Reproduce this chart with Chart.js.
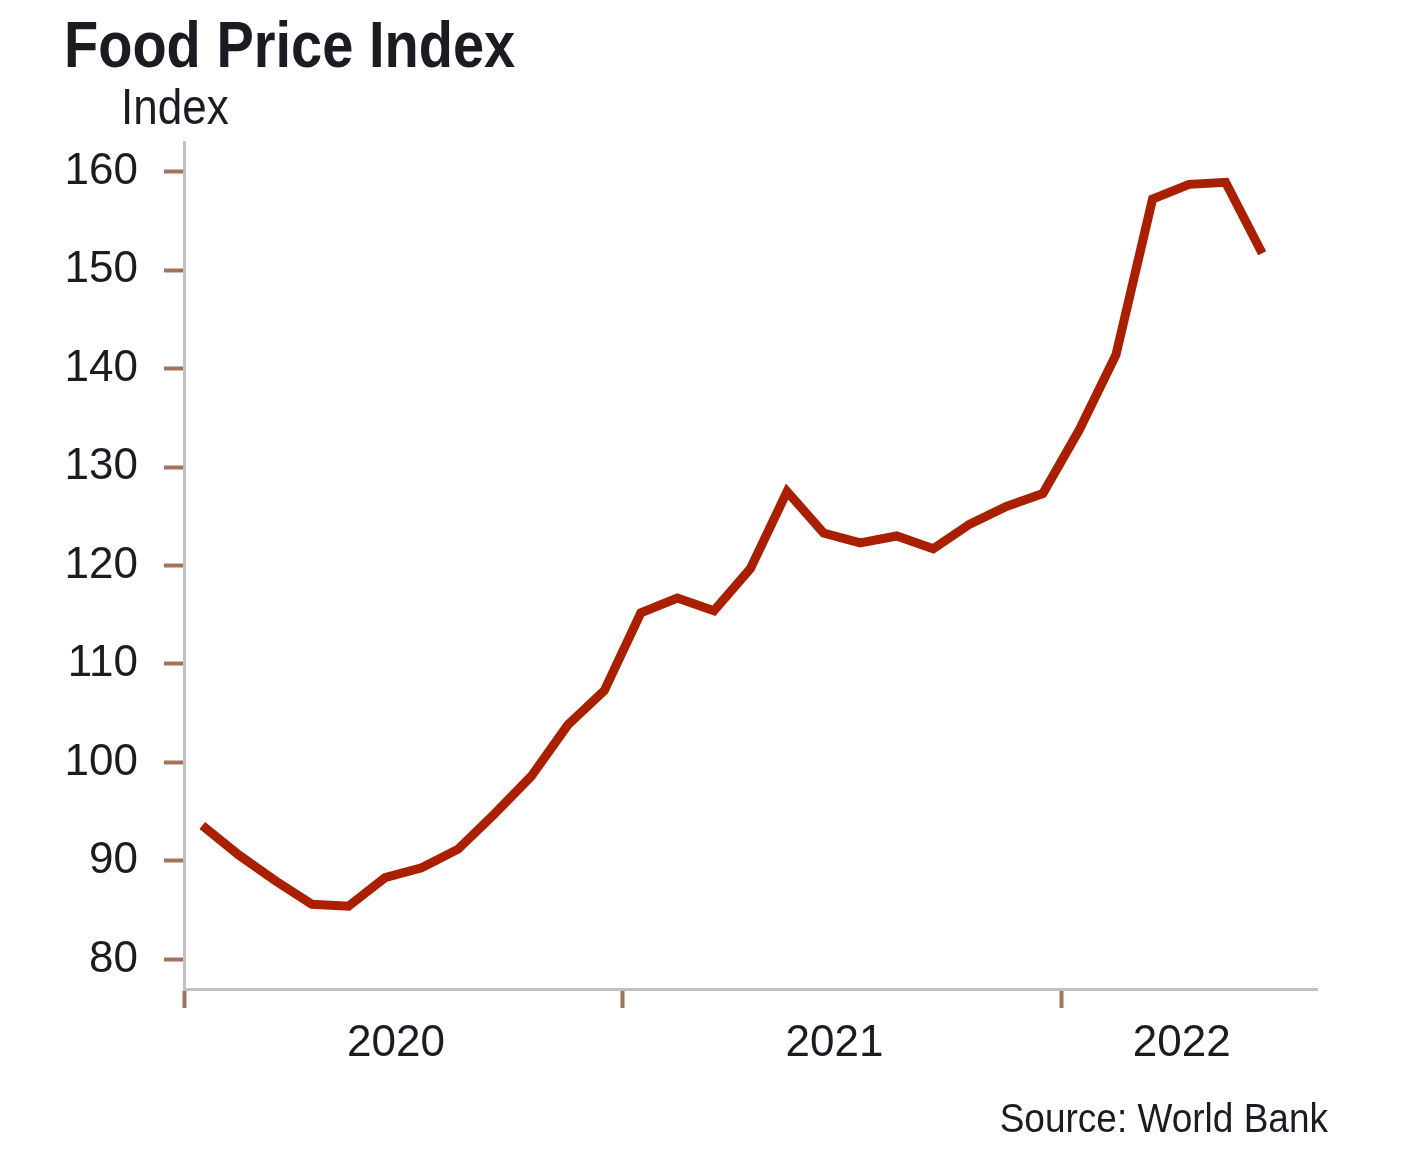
<!DOCTYPE html>
<html>
<head>
<meta charset="utf-8">
<script src="https://cdn.jsdelivr.net/npm/chart.js@4.4.1/dist/chart.umd.min.js"></script>
<style>
  html, body { margin: 0; padding: 0; background: #fff; }
  #wrap { width: 1416px; height: 1162px; }
</style>
</head>
<body>
<div id="wrap"><canvas id="foodChart" width="1416" height="1162"></canvas></div>
<script>
// monthly slots on the x axis (last slot has no data yet)
const months = [
  'Jan 2020', 'Feb 2020', 'Mar 2020', 'Apr 2020', 'May 2020', 'Jun 2020',
  'Jul 2020', 'Aug 2020', 'Sep 2020', 'Oct 2020', 'Nov 2020', 'Dec 2020',
  'Jan 2021', 'Feb 2021', 'Mar 2021', 'Apr 2021', 'May 2021', 'Jun 2021',
  'Jul 2021', 'Aug 2021', 'Sep 2021', 'Oct 2021', 'Nov 2021', 'Dec 2021',
  'Jan 2022', 'Feb 2022', 'Mar 2022', 'Apr 2022', 'May 2022', 'Jun 2022',
  'Jul 2022'
];

// food price index
const foodIndex = [
  93.6, 90.6, 88.0, 85.6, 85.4, 88.3, 89.3, 91.2, 94.8, 98.6, 103.8, 107.3,
  115.2, 116.7, 115.4, 119.7, 127.5, 123.3, 122.3, 123.0, 121.7, 124.2, 126.0, 127.3,
  133.8, 141.4, 157.2, 158.7, 158.9, 151.7
];

const yTicks = [80, 90, 100, 110, 120, 130, 140, 150, 160];
const years = ['2020', '2021', '2022'];

const lineColor = '#a91f00';
const textColor = '#1b1b22';
const tickMarkColor = '#a2735c';
const axisColor = '#c4c0bf';
const fontFamily = '"Liberation Sans", Arial, sans-serif';

// year boundaries and year label centres, in month-index units
const boundaries = [];
const yearCenters = [];
years.forEach(yr => {
  const idx = months.map((m, i) => m.endsWith(yr) ? i : -1).filter(i => i >= 0);
  const start = idx[0] - 0.5;
  const end = idx[idx.length - 1] + 0.5;
  boundaries.push(start);
  yearCenters.push({ value: (start + end) / 2 - 0.2, label: yr });
});

function drawText(ctx, text, x, y, font, align, stretch) {
  ctx.save();
  ctx.font = font;
  ctx.fillStyle = textColor;
  ctx.textAlign = align;
  ctx.textBaseline = 'alphabetic';
  ctx.translate(x, y);
  ctx.scale(1, stretch);
  ctx.fillText(text, 0, 0);
  ctx.restore();
}

const textPlugin = {
  id: 'textPlugin',
  afterDraw(chart) {
    const ctx = chart.ctx;
    drawText(ctx, 'Food Price Index', 64, 67, 'bold 56px ' + fontFamily, 'left', 1.15);
    drawText(ctx, 'Index', 121, 124, '44px ' + fontFamily, 'left', 1.12);
    drawText(ctx, 'Source: World Bank', 1328, 1132, '37px ' + fontFamily, 'right', 1.1);
  }
};

function createFoodChart() {
  const ctx = document.getElementById('foodChart').getContext('2d');
  return new Chart(ctx, {
    type: 'line',
    data: {
      datasets: [{
        label: 'Food Price Index',
        data: foodIndex.map((v, i) => ({ x: i, y: v })),
        borderColor: lineColor,
        borderWidth: 9,
        pointRadius: 0,
        tension: 0,
        fill: false,
        borderJoinStyle: 'miter',
        borderCapStyle: 'butt'
      }]
    },
    options: {
      responsive: false,
      animation: false,
      devicePixelRatio: 1,
      layout: { padding: { top: 142, right: 99, bottom: 73, left: 0 } },
      plugins: {
        legend: { display: false },
        tooltip: { enabled: false },
        title: { display: false }
      },
      scales: {
        x: {
          type: 'linear',
          min: -0.5,
          max: months.length - 0.5,
          afterFit: scale => { scale.height = 100; },
          afterBuildTicks: scale => {
            scale.ticks = boundaries.map(v => ({ value: v }))
              .concat(yearCenters.map(c => ({ value: c.value })));
          },
          border: { display: true, color: axisColor, width: 3 },
          grid: {
            drawOnChartArea: false,
            drawTicks: true,
            tickLength: 19,
            tickWidth: 4,
            tickColor: c => boundaries.includes(c.tick.value) ? tickMarkColor : 'rgba(0,0,0,0)'
          },
          ticks: {
            autoSkip: false,
            maxRotation: 0,
            padding: 9,
            color: textColor,
            font: { family: fontFamily, size: 44 },
            callback: value => {
              const c = yearCenters.find(y => y.value === value);
              return c ? c.label : '';
            }
          }
        },
        y: {
          min: 77,
          max: 163,
          afterFit: scale => { scale.width = 184; },
          afterBuildTicks: scale => { scale.ticks = yTicks.map(v => ({ value: v })); },
          border: { display: true, color: axisColor, width: 3 },
          grid: {
            drawOnChartArea: false,
            drawTicks: true,
            tickLength: 20,
            tickWidth: 4,
            tickColor: tickMarkColor
          },
          ticks: {
            padding: 26,
            color: textColor,
            font: { family: fontFamily, size: 44 }
          }
        }
      }
    },
    plugins: [textPlugin]
  });
}

createFoodChart();
</script>
</body>
</html>
